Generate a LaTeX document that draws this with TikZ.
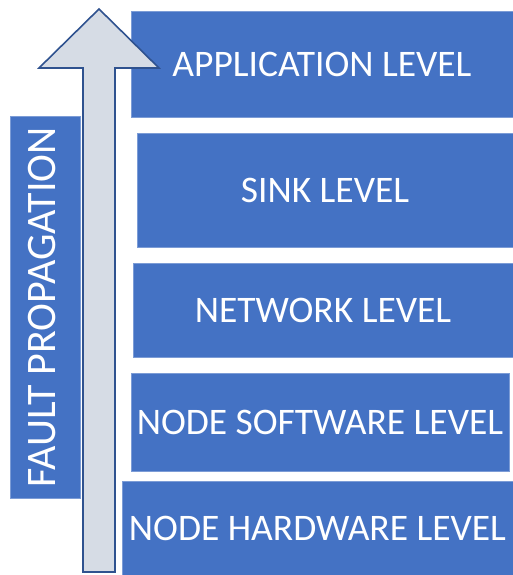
\documentclass[tikz,border=0pt]{standalone}
\usepackage{fontspec}
\setmainfont{Carlito}
\definecolor{boxblue}{HTML}{4472C4}
\definecolor{arrowfill}{HTML}{D6DCE5}
\definecolor{arrowline}{HTML}{2F528F}
\begin{document}
\begin{tikzpicture}[x=1pt,y=-1pt,
  levelbox/.style={fill=boxblue, draw=boxblue!70!white, line width=0.6pt, inner sep=0pt, text=white, font=\fontsize{37.5}{40}\selectfont, anchor=center},
  faultbox/.style={fill=boxblue, draw=boxblue!70!white, line width=0.6pt, inner sep=0pt}]
\useasboundingbox (0,0) rectangle (513,575);
\node[levelbox, minimum width=382pt, minimum height=106pt] (app) at (322,64) {APPLICATION LEVEL};
\node[levelbox, minimum width=376pt, minimum height=114pt] (sink) at (325,190) {SINK LEVEL};
\node[levelbox, minimum width=380pt, minimum height=94pt] (net) at (323,310) {NETWORK LEVEL};
\node[levelbox, minimum width=378pt, minimum height=98pt] (sw) at (320,422) {NODE SOFTWARE LEVEL};
\node[levelbox, minimum width=391pt, minimum height=94pt] (hw) at (317.5,528) {NODE HARDWARE LEVEL};
\node[faultbox, minimum width=70pt, minimum height=382pt] (fault) at (45,307) {};
\node[text=white, font=\fontsize{42}{44}\selectfont, rotate=90, inner sep=0pt] (faulttext) at (42,307.5) {FAULT PROPAGATION};
\draw[fill=arrowfill, draw=arrowline, line width=1.6pt, line join=miter]
  (83,572) -- (83,68) -- (39,68) -- (99,9) -- (159,68) -- (115,68) -- (115,572) -- cycle;
\end{tikzpicture}
\end{document}
